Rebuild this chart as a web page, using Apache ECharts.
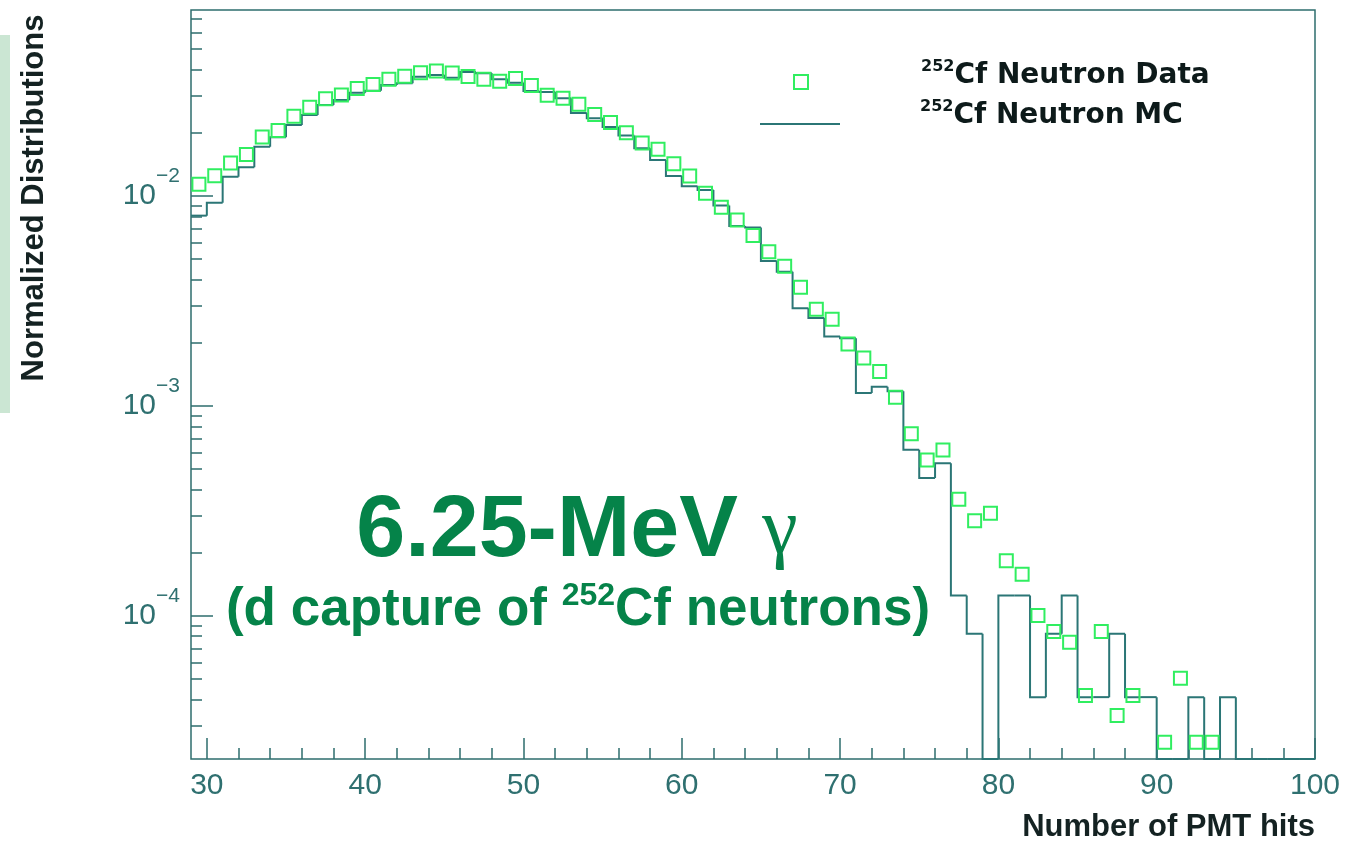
<!DOCTYPE html>
<html>
<head>
<meta charset="utf-8">
<script src="https://cdn.jsdelivr.net/npm/echarts@6/dist/echarts.min.js"></script>
<style>
html,body{margin:0;padding:0;background:#fff;}
#chart{width:1357px;height:845px;}
</style>
</head>
<body>
<div id="chart"></div>
<script>
// ---- axis ranges ----
const X_MIN = 29, X_MAX = 100;
const Y_MIN = 2.08e-5, Y_MAX = 0.0769;

// ---- tick labels ----
const xMajorTicks = [30, 40, 50, 60, 70, 80, 90, 100];
const xMinorTicks = [32, 34, 36, 38, 42, 44, 46, 48, 52, 54, 56, 58, 62, 64, 66, 68, 72, 74, 76, 78, 82, 84, 86, 88, 92, 94, 96, 98];
const yMajorTicks = [1e-4, 1e-3, 1e-2];
const yMinorTicks = [3e-5, 4e-5, 5e-5, 6e-5, 7e-5, 8e-5, 9e-5,
  2e-4, 3e-4, 4e-4, 5e-4, 6e-4, 7e-4, 8e-4, 9e-4,
  2e-3, 3e-3, 4e-3, 5e-3, 6e-3, 7e-3, 8e-3, 9e-3,
  2e-2, 3e-2, 4e-2, 5e-2, 6e-2, 7e-2];

// ---- 252Cf neutron MC histogram: bins of width 1 starting at 29 ----
const mcFirstBin = 29;
const mcValues = [
  0.00806, 0.00929, 0.01235, 0.01370, 0.01717, 0.01904, 0.02178, 0.02430, 0.02712, 0.02865,
  0.03103, 0.03172, 0.03378, 0.03441, 0.03699, 0.03768, 0.03659, 0.03895, 0.03840, 0.03594,
  0.03464, 0.03162, 0.03128, 0.02920, 0.02484, 0.02344, 0.02131, 0.01941, 0.01687, 0.01484,
  0.01245, 0.01112, 0.01068, 0.00901, 0.00720, 0.00708, 0.00490, 0.00435, 0.00292, 0.00262,
  0.00214, 0.00210, 0.001153, 0.001235, 0.001176, 0.000619, 0.000454, 0.000533, 0.000125, 0.0000821,
  0, 0.000125, 0.000125, 0.000041, 0.0000821, 0.000125, 0.000041, 0.000041, 0.0000821, 0.000041,
  0.000041, 0, 0, 0.000041, 0, 0.000041, 0, 0, 0, 0, 0
];

// ---- 252Cf neutron data: bin centres 29.5 ... 93.5 ----
const dataFirstCenter = 29.5;
const dataValues = [
  0.01137, 0.01249, 0.01436, 0.01576, 0.01910, 0.02050, 0.02395, 0.02647, 0.02904, 0.03027,
  0.03249, 0.03396, 0.03598, 0.03715, 0.03861, 0.03937, 0.03852, 0.03707, 0.03598, 0.03516,
  0.03626, 0.03359, 0.03020, 0.02920, 0.02733, 0.02441, 0.02239, 0.02001, 0.01788, 0.01669,
  0.01425, 0.01245, 0.01030, 0.00884, 0.00769, 0.00648, 0.00543, 0.00463, 0.00367, 0.00289,
  0.00259, 0.00197, 0.00169, 0.00146, 0.00110, 0.000736, 0.000553, 0.000617, 0.000359, 0.000284,
  0.000308, 0.000183, 0.000158, 0.0001003, 0.0000842, 0.0000749, 0.0000417, 0.0000842, 0.0000335, 0.0000417,
  null, 0.0000250, 0.0000505, 0.0000250, 0.0000250
];

const FRAME = '#2e6e6e';
const MC_COLOR = '#2b7676';
const DATA_COLOR = '#30ee60';
const LABEL_COLOR = '#2f7070';
const TITLE_COLOR = '#142222';
const GREEN = '#058349';
const SANS = '"Liberation Sans", Arial, sans-serif';
const LEG_FONT = '"DejaVu Sans", sans-serif';

const mcData = mcValues.map((v, i) => [mcFirstBin + i, mcFirstBin + i + 1, v]);
const scatterData = [];
dataValues.forEach((v, i) => { if (v !== null) scatterData.push([dataFirstCenter + i, v]); });

const chart = echarts.init(document.getElementById('chart'), null, {renderer: 'canvas'});

function supLabel(v) {
  const e = Math.round(Math.log10(v));
  return '{b|10}{s|\u2212' + Math.abs(e) + '}';
}

const legendRich = {
  s: {fontSize: 16, fontWeight: 'bold', lineHeight: 14, verticalAlign: 'top', fontFamily: LEG_FONT, color: '#0d1a1a'},
  t: {fontSize: 28, fontWeight: 'bold', lineHeight: 34, fontFamily: LEG_FONT, color: '#0d1a1a'}
};

const option = {
  animation: false,
  backgroundColor: '#ffffff',
  grid: {left: 191, right: 42, top: 10, bottom: 86, show: true, borderColor: FRAME, borderWidth: 1.5, backgroundColor: 'transparent'},
  xAxis: [{
    type: 'value', min: X_MIN, max: X_MAX,
    axisLine: {show: false}, splitLine: {show: false},
    axisTick: {show: true, inside: true, length: 21, customValues: xMajorTicks, lineStyle: {color: FRAME, width: 1.5}},
    axisLabel: {show: true, customValues: xMajorTicks, margin: 12, fontSize: 30, fontFamily: SANS, color: LABEL_COLOR}
  }, {
    type: 'value', min: X_MIN, max: X_MAX, position: 'bottom',
    axisLine: {show: false}, splitLine: {show: false},
    axisTick: {show: true, inside: true, length: 11, customValues: xMinorTicks, lineStyle: {color: FRAME, width: 1.5}},
    axisLabel: {show: false}
  }],
  yAxis: [{
    type: 'log', logBase: 10, min: Y_MIN, max: Y_MAX,
    axisLine: {show: false}, splitLine: {show: false},
    axisTick: {show: true, inside: true, length: 22, customValues: yMajorTicks, lineStyle: {color: FRAME, width: 1.5}},
    axisLabel: {
      show: true, customValues: yMajorTicks, margin: 11, formatter: supLabel,
      rich: {
        b: {fontSize: 30, lineHeight: 60, fontFamily: SANS, color: LABEL_COLOR},
        s: {fontSize: 21, lineHeight: 18, verticalAlign: 'top', fontFamily: SANS, color: LABEL_COLOR}
      }
    }
  }, {
    type: 'log', logBase: 10, min: Y_MIN, max: Y_MAX, position: 'left',
    axisLine: {show: false}, splitLine: {show: false},
    axisTick: {show: true, inside: true, length: 11, customValues: yMinorTicks, lineStyle: {color: FRAME, width: 1.5}},
    axisLabel: {show: false}
  }],
  legend: [{
    left: 793, top: 59, padding: 0, orient: 'vertical', selectedMode: false,
    itemWidth: 80, itemHeight: 14,
    data: [{name: 'Data', icon: 'path://M0,0L10,0L10,10L0,10Z',
      itemStyle: {color: 'rgba(0,0,0,0)', borderColor: DATA_COLOR, borderWidth: 2}}],
    formatter: () => '{s|252}{t|Cf Neutron Data}',
    textStyle: {padding: [0, 0, 12, 75], rich: legendRich}
  }, {
    left: 760, top: 99, padding: 0, orient: 'vertical', selectedMode: false,
    itemWidth: 80, itemHeight: 14,
    data: [{name: 'MC', icon: 'path://M0,0L40,0L40,1L0,1Z', itemStyle: {color: MC_COLOR, borderWidth: 0}}],
    formatter: () => '{s|252}{t|Cf Neutron MC}',
    textStyle: {padding: [0, 0, 16, 75], rich: legendRich}
  }],
  series: [{
    name: 'MC', type: 'custom', xAxisIndex: 0, yAxisIndex: 0,
    data: mcData, encode: {x: [0, 1], y: 2}, z: 2,
    renderItem: function (params, api) {
      const i = params.dataIndex;
      const cs = params.coordSys;
      const bottom = cs.y + cs.height;
      const lo = api.value(0), hi = api.value(1), v = api.value(2);
      const yOf = val => (val > 0 ? api.coord([lo, val])[1] : bottom);
      const x0 = api.coord([lo, Y_MIN])[0];
      const x1 = api.coord([hi, Y_MIN])[0];
      const y = yOf(v);
      const pts = [];
      if (i > 0) pts.push([x0, yOf(mcValues[i - 1])]);
      pts.push([x0, y], [x1, y]);
      return {type: 'polyline', shape: {points: pts}, style: {stroke: MC_COLOR, lineWidth: 2, fill: null}};
    }
  }, {
    name: 'Data', type: 'scatter', xAxisIndex: 0, yAxisIndex: 0,
    data: scatterData, symbol: 'rect', symbolSize: 13, z: 3,
    itemStyle: {color: 'rgba(0,0,0,0)', borderColor: DATA_COLOR, borderWidth: 2, opacity: 1}
  }],
  graphic: [
    {type: 'rect', shape: {x: 0, y: 35, width: 10, height: 378}, style: {fill: '#cbe6d3'}, silent: true},
    {type: 'text', x: 34, y: 198, rotation: Math.PI / 2,
      style: {text: 'Normalized Distributions', font: 'bold 31px ' + SANS, fill: TITLE_COLOR,
        align: 'center', verticalAlign: 'middle', textAlign: 'center', textVerticalAlign: 'middle'}},
    {type: 'text', right: 42, top: 812,
      style: {text: 'Number of PMT hits', font: 'bold 31px ' + SANS, fill: TITLE_COLOR}},
    {type: 'text', x: 577, y: 532,
      style: {text: '{a|6.25-MeV }{g|\u03b3}', align: 'center', verticalAlign: 'middle', textAlign: 'center', textVerticalAlign: 'middle',
        rich: {
          a: {fontSize: 88, fontWeight: 'bold', fontFamily: SANS, fill: GREEN, color: GREEN, lineHeight: 96},
          g: {fontSize: 80, fontFamily: '"Liberation Serif", serif', fill: GREEN, color: GREEN, lineHeight: 96}
        }}},
    {type: 'text', x: 578, y: 610,
      style: {text: '{n|(d capture of }{s|252}{n|Cf neutrons)}', align: 'center', verticalAlign: 'middle', textAlign: 'center', textVerticalAlign: 'middle',
        rich: {
          n: {fontSize: 53, fontWeight: 'bold', fontFamily: SANS, fill: GREEN, color: GREEN, lineHeight: 60},
          s: {fontSize: 32, fontWeight: 'bold', fontFamily: SANS, fill: GREEN, color: GREEN, lineHeight: 30, verticalAlign: 'top'}
        }}}
  ]
};
chart.setOption(option);
</script>
</body>
</html>
